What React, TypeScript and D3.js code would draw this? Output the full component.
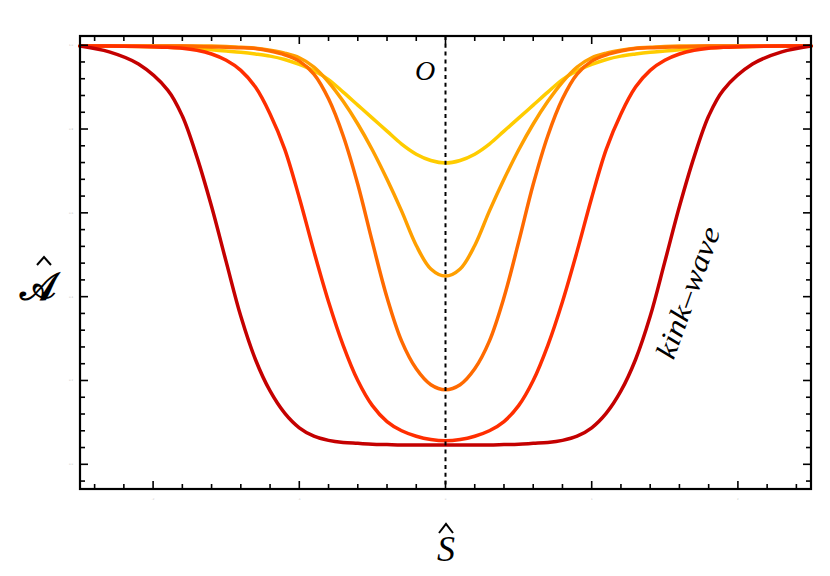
import React from 'react';
import * as d3 from 'd3';

// arc-length coordinate Ŝ (shared grid)
const sValues = [
  -2.5, -2.3, -2.1, -1.9, -1.8, -1.7, -1.6, -1.5, -1.4, -1.3, -1.2, -1.1, -1.0, -0.9, -0.8, -0.7, -0.6, -0.5, -0.4, -0.3, -0.2, -0.1, 0,
  0.1, 0.2, 0.3, 0.4, 0.5, 0.6, 0.7, 0.8, 0.9, 1.0, 1.1, 1.2, 1.3, 1.4, 1.5, 1.6, 1.7, 1.8, 1.9, 2.1, 2.3, 2.5,
];

const yellowA = [
  0.998, 0.998, 0.997, 0.995, 0.994, 0.992, 0.989, 0.986, 0.983, 0.979, 0.974, 0.966, 0.954, 0.939, 0.918, 0.888, 0.857, 0.826, 0.795, 0.764, 0.740, 0.725, 0.719,
  0.725, 0.740, 0.764, 0.795, 0.826, 0.857, 0.888, 0.918, 0.939, 0.954, 0.966, 0.974, 0.979, 0.983, 0.986, 0.989, 0.992, 0.994, 0.995, 0.997, 0.998, 0.998,
];
const goldA = [
  0.998, 0.998, 0.998, 0.998, 0.998, 0.998, 0.998, 0.997, 0.995, 0.993, 0.988, 0.981, 0.970, 0.948, 0.912, 0.866, 0.812, 0.750, 0.680, 0.604, 0.522, 0.466, 0.449,
  0.466, 0.522, 0.604, 0.680, 0.750, 0.812, 0.866, 0.912, 0.948, 0.970, 0.981, 0.988, 0.993, 0.995, 0.997, 0.998, 0.998, 0.998, 0.998, 0.998, 0.998, 0.998,
];
const orangeA = [
  0.998, 0.998, 0.998, 0.998, 0.998, 0.997, 0.996, 0.995, 0.994, 0.992, 0.986, 0.977, 0.962, 0.931, 0.872, 0.784, 0.668, 0.530, 0.398, 0.294, 0.228, 0.190, 0.178,
  0.190, 0.228, 0.294, 0.398, 0.530, 0.668, 0.784, 0.872, 0.931, 0.962, 0.977, 0.986, 0.992, 0.994, 0.995, 0.996, 0.997, 0.998, 0.998, 0.998, 0.998, 0.998,
];
const redOrangeA = [
  0.998, 0.998, 0.997, 0.995, 0.993, 0.988, 0.979, 0.964, 0.940, 0.900, 0.836, 0.752, 0.636, 0.508, 0.388, 0.284, 0.200, 0.140, 0.102, 0.080, 0.067, 0.059, 0.056,
  0.059, 0.067, 0.080, 0.102, 0.140, 0.200, 0.284, 0.388, 0.508, 0.636, 0.752, 0.836, 0.900, 0.940, 0.964, 0.979, 0.988, 0.993, 0.995, 0.997, 0.998, 0.998,
];
const darkRedA = [
  0.998, 0.984, 0.955, 0.893, 0.831, 0.733, 0.615, 0.483, 0.353, 0.250, 0.175, 0.122, 0.087, 0.067, 0.057, 0.052, 0.050, 0.048, 0.047, 0.046, 0.046, 0.046, 0.046,
  0.046, 0.046, 0.046, 0.047, 0.048, 0.050, 0.052, 0.057, 0.067, 0.087, 0.122, 0.175, 0.250, 0.353, 0.483, 0.615, 0.733, 0.831, 0.893, 0.955, 0.984, 0.998,
];

const seriesValues = [yellowA, goldA, orangeA, redOrangeA, darkRedA];
const seriesColors = ['#FFCC00', '#FF9F00', '#FF6A00', '#FF2E00', '#C40000'];

const xMajorTicks = [-2, -1, 0, 1, 2];
const xTickLabels = ['-2', '-1', '0', '1', '2'];
const yMajorTicks = [0, 0.2, 0.4, 0.6, 0.8, 1.0];
const yTickLabels = ['0.0', '0.2', '0.4', '0.6', '0.8', '1.0'];

export default function App() {
  const W = 830, H = 576;
  const left = 80, right = 811, top = 36, bottom = 489;
  const x = d3.scaleLinear().domain([-2.5, 2.5]).range([left, right]);
  const y = d3.scaleLinear().domain([0, 1]).range([464.3, 45.2]);

  const line = d3
    .line<number>()
    .x((_, i) => x(sValues[i]))
    .y((d) => y(d))
    .curve(d3.curveCatmullRom.alpha(0.5));

  const xMinor = d3.range(-12, 13).map((k) => k * 0.2);
  const yMinorIdx = d3.range(-1, 26);
  const isMajorX = (v: number) => Math.abs(v - Math.round(v)) < 1e-6;
  const majLen = 8, minLen = 5;

  const ticks: JSX.Element[] = [];
  xMinor.forEach((v, i) => {
    const L = isMajorX(v) ? majLen : minLen;
    const px = x(v);
    ticks.push(<line key={'xb' + i} x1={px} x2={px} y1={bottom} y2={bottom - L} />);
    ticks.push(<line key={'xt' + i} x1={px} x2={px} y1={top} y2={top + L} />);
  });
  yMinorIdx.forEach((k, i) => {
    const L = ((k % 5) + 5) % 5 === 0 ? majLen : minLen;
    const py = y(k * 0.04);
    ticks.push(<line key={'yl' + i} x1={left} x2={left + L} y1={py} y2={py} />);
    ticks.push(<line key={'yr' + i} x1={right} x2={right - L} y1={py} y2={py} />);
  });

  return (
    <svg
      width={W}
      height={H}
      viewBox={`0 0 ${W} ${H}`}
      style={{ position: 'absolute', left: 0, top: 0, background: '#fff' }}
    >
      <rect x={0} y={0} width={W} height={H} fill="#fff" />
      <g fill="none" strokeWidth={3.5} strokeLinejoin="round" strokeLinecap="round">
        {seriesValues.map((vals, k) => (
          <path key={k} d={line(vals) || ''} stroke={seriesColors[k]} />
        ))}
      </g>
      <line x1={x(0)} x2={x(0)} y1={top} y2={bottom} stroke="#000" strokeWidth={2} strokeDasharray="4,3.8" />
      <g stroke="#000" strokeWidth={1.6}>{ticks}</g>
      <rect x={left} y={top} width={right - left} height={bottom - top} fill="none" stroke="#000" strokeWidth={2.2} />
      <g fontFamily="'DejaVu Sans', sans-serif" fontSize={2.5} fill="#bbb">
        {xMajorTicks.map((v, i) => (
          <text key={'xl' + i} x={x(v)} y={500} textAnchor="middle">{xTickLabels[i]}</text>
        ))}
        {yMajorTicks.map((v, i) => (
          <text key={'yl' + i} x={73} y={y(v) + 1} textAnchor="end">{yTickLabels[i]}</text>
        ))}
      </g>
      <text x={425} y={80} fontFamily="'Liberation Serif', serif" fontStyle="italic" fontSize={28} textAnchor="middle" fill="#000">O</text>
      <text
        transform="translate(697,296) rotate(-70)"
        fontFamily="'Liberation Serif', serif"
        fontStyle="italic"
        fontSize={29}
        textAnchor="middle"
        fill="#000"
        textLength={138}
        lengthAdjust="spacingAndGlyphs"
      >
        kink–wave
      </text>
      <text x={446} y={561} fontFamily="'Liberation Serif', serif" fontStyle="italic" fontSize={36} textAnchor="middle" fill="#000">S</text>
      <path d="M439,533 L446,524 L453,533" fill="none" stroke="#000" strokeWidth={2} />
      <text x={38} y={300} fontFamily="'DejaVu Serif', 'DejaVu Sans', serif" fontSize={38} fontWeight="bold" textAnchor="middle" fill="#000">𝒜</text>
      <path d="M37,265 L44,257 L51,265" fill="none" stroke="#000" strokeWidth={2} />
    </svg>
  );
}
